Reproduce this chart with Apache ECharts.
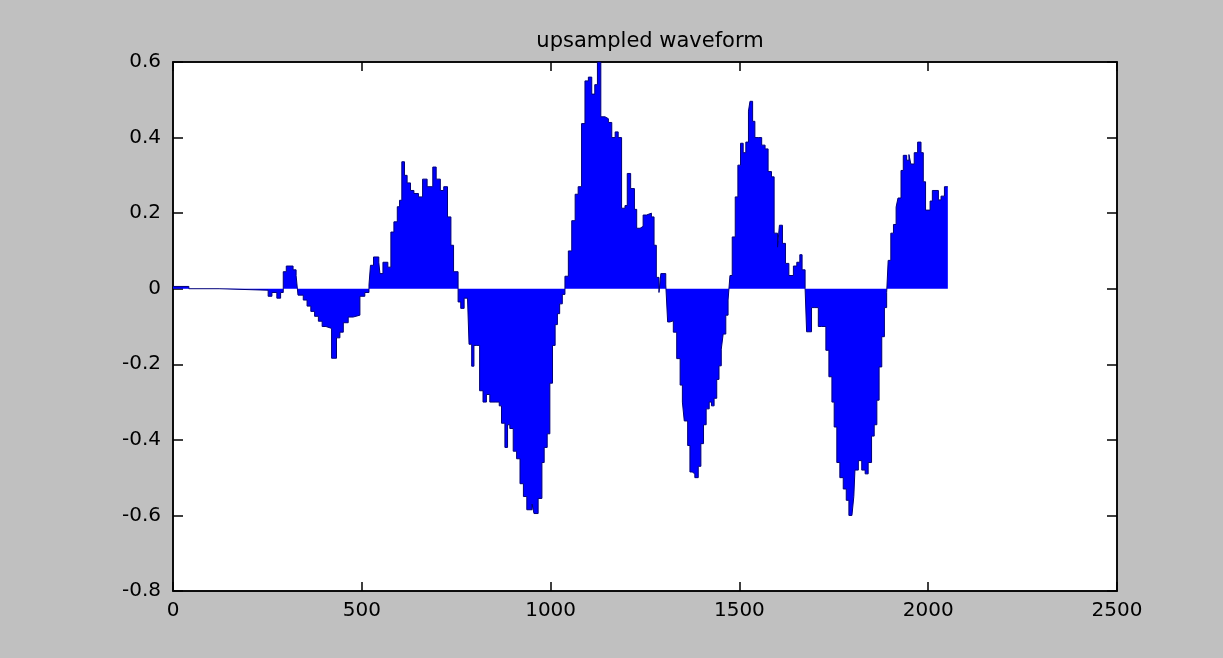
<!DOCTYPE html>
<html>
<head>
<meta charset="utf-8">
<title>upsampled waveform</title>
<script src="https://cdn.jsdelivr.net/npm/echarts@6/dist/echarts.min.js"></script>
<style>
  html, body { margin: 0; padding: 0; background: #c0c0c0; }
  #main { width: 1223px; height: 658px; }
</style>
</head>
<body>
<div id="main"></div>
<script>
// 采样点起点（每一级阶梯从这里开始）
var sampleStart = [
  0, 42, 122, 252, 262, 275, 285, 292, 300, 318, 326, 331, 345, 355, 365, 375, 385, 395, 405, 420,
  433, 442, 451, 464, 477, 495, 508, 519,
  523, 531, 545, 548, 556, 569, 577, 585, 594, 600, 606, 613, 620, 629, 638, 650, 661, 673, 688, 697,
  708, 717, 727, 736, 743,
  755, 762, 771, 780, 784, 791, 797, 803, 812, 821, 830, 839, 853, 864, 870, 879, 886, 892, 901, 910,
  919, 928, 937, 951, 956, 967, 977, 983, 991, 998, 1005, 1012, 1018, 1024, 1031,
  1038, 1047, 1056, 1065, 1073, 1082, 1091, 1100, 1109, 1117, 1124, 1133, 1144, 1153, 1162, 1171,
  1179, 1188, 1197, 1203, 1212, 1222, 1228, 1237, 1245, 1254, 1267, 1274, 1280, 1287, 1292, 1305,
  1310, 1316, 1325, 1334, 1343, 1349, 1354, 1363, 1369, 1375, 1382, 1391, 1398, 1405, 1412, 1420,
  1426, 1433, 1440, 1446, 1452, 1457, 1464, 1470,
  1475, 1481, 1489, 1496, 1503, 1510, 1517, 1524, 1528, 1535, 1541, 1550, 1559, 1568, 1576, 1585,
  1592, 1601, 1606, 1614, 1622, 1631, 1643, 1652, 1660, 1666, 1674,
  1678, 1691, 1700, 1709, 1718, 1729, 1737, 1745, 1751, 1758, 1766, 1775, 1783, 1790, 1798, 1803,
  1806, 1815, 1824, 1833, 1841, 1850, 1857, 1864, 1870, 1877, 1884, 1890,
  1894, 1901, 1908, 1915, 1920, 1928, 1934, 1943, 1949, 1954, 1963, 1972, 1981, 1987, 1993, 2005,
  2011, 2018, 2027, 2034, 2043, 2052
];
// 每一级的幅值
var amplitude = [
  0.006, 0.0, -0.004, -0.02, -0.01, -0.025, -0.01, 0.045, 0.06, 0.05, 0.035, -0.017, -0.03, -0.046, -0.06, -0.073, -0.086, -0.1, -0.105, -0.184,
  -0.13, -0.115, -0.09, -0.075, -0.07, -0.02, -0.01, 0.01,
  0.062, 0.084, 0.07, 0.04, 0.07, 0.057, 0.15, 0.177, 0.217, 0.234, 0.336, 0.30, 0.28, 0.26, 0.252, 0.243, 0.29, 0.27, 0.322, 0.29,
  0.26, 0.27, 0.19, 0.115, 0.045,
  -0.035, -0.052, -0.025, -0.03, -0.147, -0.205, -0.15, -0.15, -0.27, -0.30, -0.28, -0.30, -0.30, -0.31, -0.356, -0.42, -0.36, -0.37, -0.43, -0.45,
  -0.516, -0.55, -0.585, -0.57, -0.595, -0.555, -0.46, -0.42, -0.384, -0.25, -0.15, -0.095, -0.066, -0.04, -0.015,
  0.033, 0.1, 0.18, 0.25, 0.27, 0.437, 0.55, 0.56, 0.515, 0.54, 0.6, 0.455, 0.45, 0.44, 0.40, 0.415,
  0.40, 0.213, 0.22, 0.305, 0.265, 0.21, 0.16, 0.165, 0.195, 0.20, 0.19, 0.115, 0.03, -0.01, 0.04, 0.01,
  -0.088, -0.085, -0.115, -0.185, -0.255, -0.30, -0.35, -0.415, -0.485, -0.49, -0.50, -0.47, -0.41, -0.36, -0.318, -0.30,
  -0.31, -0.29, -0.24, -0.204, -0.16, -0.12, -0.07, -0.03,
  0.035, 0.137, 0.243, 0.327, 0.385, 0.36, 0.388, 0.47, 0.496, 0.443, 0.40, 0.40, 0.38, 0.37, 0.31, 0.296,
  0.147, 0.11, 0.168, 0.12, 0.067, 0.035, 0.06, 0.07, 0.09, 0.05, 0.0,
  -0.114, -0.05, -0.05, -0.1, -0.1, -0.163, -0.233, -0.3, -0.366, -0.46, -0.5, -0.53, -0.56, -0.6, -0.605, -0.55,
  -0.48, -0.455, -0.48, -0.49, -0.46, -0.39, -0.36, -0.295, -0.207, -0.127, -0.05, -0.01,
  0.075, 0.147, 0.17, 0.216, 0.24, 0.313, 0.353, 0.34, 0.355, 0.33, 0.36, 0.388, 0.36, 0.283, 0.208, 0.232,
  0.26, 0.26, 0.235, 0.245, 0.27, 0.27
];
var xTicks = [0, 500, 1000, 1500, 2000, 2500];
var yTicks = [-0.8, -0.6, -0.4, -0.2, 0, 0.2, 0.4, 0.6];

var points = sampleStart.map(function (x, i) { return [x, amplitude[i]]; });

var myChart = echarts.init(document.getElementById('main'));

var labelFont = { color: '#000', fontFamily: 'DejaVu Sans', fontSize: 20 };
var frameLine = { show: true, onZero: false, lineStyle: { color: '#000', width: 1.5 } };

var option = {
  backgroundColor: '#c0c0c0',
  animation: false,
  title: {
    text: 'upsampled waveform',
    left: 645,
    top: 26,
    textAlign: 'center',
    textStyle: { color: '#000', fontFamily: 'DejaVu Sans', fontSize: 21, fontWeight: 'normal' }
  },
  grid: {
    left: 173,
    right: 106,
    top: 62,
    bottom: 67,
    show: true,
    backgroundColor: '#ffffff',
    borderColor: '#000',
    borderWidth: 1.5
  },
  xAxis: [{
    type: 'value',
    min: xTicks[0],
    max: xTicks[xTicks.length - 1],
    interval: 500,
    axisLine: frameLine,
    axisTick: { show: true, inside: true, length: 9, lineStyle: { color: '#000', width: 1.5 } },
    axisLabel: Object.assign({
      margin: 10,
      formatter: function (v) { return String(v); }
    }, labelFont),
    splitLine: { show: false }
  }, {
    type: 'value',
    position: 'top',
    min: xTicks[0],
    max: xTicks[xTicks.length - 1],
    interval: 500,
    axisLine: frameLine,
    axisTick: { show: true, inside: true, length: 9, lineStyle: { color: '#000', width: 1.5 } },
    axisLabel: { show: false },
    splitLine: { show: false }
  }],
  yAxis: [{
    type: 'value',
    min: yTicks[0],
    max: yTicks[yTicks.length - 1],
    interval: 0.2,
    axisLine: frameLine,
    axisTick: { show: true, inside: true, length: 10, lineStyle: { color: '#000', width: 1.5 } },
    axisLabel: Object.assign({
      margin: 12,
      formatter: function (v) { return String(Math.round(v * 10) / 10); }
    }, labelFont),
    splitLine: { show: false }
  }, {
    type: 'value',
    position: 'right',
    min: yTicks[0],
    max: yTicks[yTicks.length - 1],
    interval: 0.2,
    axisLine: frameLine,
    axisTick: { show: true, inside: true, length: 10, lineStyle: { color: '#000', width: 1.5 } },
    axisLabel: { show: false },
    splitLine: { show: false }
  }],
  series: [{
    type: 'line',
    step: 'end',
    showSymbol: false,
    symbol: 'none',
    data: points,
    lineStyle: { color: '#00007a', width: 1 },
    areaStyle: { color: '#0000ff', opacity: 1, origin: 0 },
    z: 2
  }]
};

myChart.setOption(option);
</script>
</body>
</html>
